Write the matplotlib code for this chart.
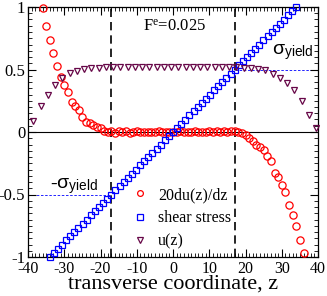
import numpy as np
import matplotlib
matplotlib.use('Agg')
import matplotlib.pyplot as plt
from matplotlib.ticker import MultipleLocator, FuncFormatter

plt.rcParams['font.family'] = ['Liberation Serif', 'DejaVu Serif']
plt.rcParams['axes.unicode_minus'] = False
plt.rcParams['mathtext.fontset'] = 'custom'
plt.rcParams['mathtext.rm'] = 'Liberation Serif'
plt.rcParams['mathtext.it'] = 'Liberation Serif:italic'
plt.rcParams['mathtext.sf'] = 'Liberation Sans'

# 20 du(z)/dz, red circles
z_grad = [-36, -35, -34, -33, -32, -31, -30, -29, -28, -27, -26, -25, -24, -23, -22,
          -21, -20, -19, -18, -17, -16, -15, -14, -13, -12, -11, -10, -9, -8, -7,
          -6, -5, -4, -3, -2, -1, 0, 1, 2, 3, 4, 5, 6, 7, 8, 9, 10, 11, 12, 13, 14,
          15, 16, 17, 18, 19, 20, 21, 22, 23, 24, 25, 26, 27, 28, 29, 30, 31, 32,
          33, 34, 35, 36]
grad = [0.99, 0.85, 0.74, 0.63, 0.53, 0.44, 0.38, 0.32, 0.24, 0.21, 0.18, 0.12, 0.08,
        0.07, 0.055, 0.04, 0.03, 0.005, 0.0, 0.008, -0.005, 0.005, 0.0, 0.006, -0.004,
        0.0, 0.005, -0.003, 0.0, 0.004, -0.003, 0.0, 0.005, -0.002, 0.0, 0.004, -0.003,
        0.0, 0.005, -0.003, 0.004, 0.0, 0.005, -0.002, 0.004, 0.0, 0.006, -0.002, 0.005,
        0.0, 0.006, 0.002, 0.008, 0.005, 0.0, -0.01, -0.025, -0.045, -0.07, -0.10, -0.12,
        -0.14, -0.19, -0.23, -0.33, -0.36, -0.42, -0.48, -0.58, -0.66, -0.75, -0.86, -0.97]

# shear stress, blue squares
z_stress = [-34.0, -32.87, -31.73, -30.6, -29.47, -28.33, -27.2, -26.07, -24.93, -23.8,
            -22.67, -21.53, -20.4, -19.27, -18.13, -17.0, -15.87, -14.73, -13.6, -12.47,
            -11.33, -10.2, -9.07, -7.93, -6.8, -5.67, -4.53, -3.4, -2.27, -1.13, 0.0,
            1.13, 2.27, 3.4, 4.53, 5.67, 6.8, 7.93, 9.07, 10.2, 11.33, 12.47, 13.6,
            14.73, 15.87, 17.0, 18.13, 19.27, 20.4, 21.53, 22.67, 23.8, 24.93, 26.07,
            27.2, 28.33, 29.47, 30.6, 31.73, 32.87, 34.0]
stress = [-1.0, -0.967, -0.933, -0.9, -0.867, -0.833, -0.8, -0.767, -0.733, -0.7,
          -0.667, -0.633, -0.6, -0.567, -0.533, -0.5, -0.467, -0.433, -0.4, -0.367,
          -0.333, -0.3, -0.267, -0.233, -0.2, -0.167, -0.133, -0.1, -0.067, -0.033, 0.0,
          0.033, 0.067, 0.1, 0.133, 0.167, 0.2, 0.233, 0.267, 0.3, 0.333, 0.367, 0.4,
          0.433, 0.467, 0.5, 0.533, 0.567, 0.6, 0.633, 0.667, 0.7, 0.733, 0.767,
          0.8, 0.833, 0.867, 0.9, 0.933, 0.967, 1.0]

# velocity profile u(z), triangles
z_u = [-38.5, -36.5, -34.5, -32.5, -30.5, -28.5, -26.5, -24.5, -22.5, -20.5, -18.5,
       -16.5, -14.5, -12.5, -10.5, -8.5, -6.5, -4.5, -2.5, -0.5, 1.5, 3.5, 5.5, 7.5,
       9.5, 11.5, 13.5, 15.5, 17.5, 19.5, 21.5, 23.5, 25.5, 27.5, 29.5, 31.5, 33.5,
       35.5, 37.5, 39.5]
u = [0.085, 0.21, 0.30, 0.38, 0.43, 0.47, 0.49, 0.505, 0.512, 0.516, 0.518,
     0.52, 0.52, 0.52, 0.52, 0.52, 0.52, 0.52, 0.52, 0.52, 0.52, 0.52, 0.52, 0.52,
     0.52, 0.52, 0.52, 0.52, 0.519, 0.515, 0.512, 0.507, 0.495, 0.468, 0.43, 0.395,
     0.34, 0.25, 0.137, 0.03]

z_yield = 17
sigma_yield = 0.5
maroon = '#670748'

fig = plt.figure(figsize=(3.27, 2.96), dpi=100)
ax = fig.add_axes([28/327, 1-257/296, 290/327, 250/296])

ax.axhline(0, color='k', lw=0.8, zorder=1)
ax.axvline(-z_yield, color='k', lw=1.2, ls=(0, (5, 3)), zorder=1)
ax.axvline(z_yield, color='k', lw=1.2, ls=(0, (5, 3)), zorder=1)
ax.plot([-40, -z_yield], [-sigma_yield, -sigma_yield], color='b', lw=0.6, ls=(0, (3, 2)), zorder=1)
ax.plot([z_yield, 40], [sigma_yield, sigma_yield], color='b', lw=0.6, ls=(0, (3, 2)), zorder=1)

ax.plot(z_grad, grad, ls='none', marker='o', ms=5.2, mfc='none', mec='#ff0000',
        mew=0.9, label='20du(z)/dz', clip_on=False, zorder=3)
ax.plot(z_stress, stress, ls='none', marker='s', ms=4.6, mfc='none', mec='#0000ff',
        mew=0.9, label='shear stress', clip_on=False, zorder=3)
ax.plot(z_u, u, ls='none', marker='v', ms=5.0, mfc='none', mec=maroon,
        mew=0.9, label='u(z)', clip_on=False, zorder=3)

ax.set_xlim(-40, 40)
ax.set_ylim(-1, 1)
ax.xaxis.set_major_locator(MultipleLocator(10))
ax.xaxis.set_minor_locator(MultipleLocator(1))
ax.yaxis.set_major_locator(MultipleLocator(0.5))
ax.yaxis.set_minor_locator(MultipleLocator(0.05))
ax.yaxis.set_major_formatter(FuncFormatter(lambda v, p: '%g' % v))
ax.tick_params(which='both', direction='in', top=True, right=True, labelsize=12)
ax.tick_params(which='major', length=6, width=0.8)
ax.tick_params(which='minor', length=3, width=0.6)
ax.tick_params(axis='y', which='major', pad=2)
ax.tick_params(axis='x', which='major', pad=3, labelsize=11.5)
for s in ax.spines.values():
    s.set_linewidth(0.9)

ax.set_xlabel('transverse coordinate, z', fontsize=16, labelpad=-2)

ax.text(-8.2, 0.84, r'F$^{\mathrm{e}}$=0.025', fontsize=12, va='center')
ax.text(27.2, 0.64, r'$\mathsf{\sigma}_{\mathsf{yield}}$', fontsize=14, va='center')
ax.text(-34, -0.43, r'-$\mathsf{\sigma}_{\mathsf{yield}}$', fontsize=14, va='center')

ax.legend(loc='upper left', bbox_to_anchor=(0.36, 0.28), frameon=False, fontsize=11.5,
          handlelength=1.0, handletextpad=0.6, labelspacing=0.45, markerscale=0.8,
          borderaxespad=0, borderpad=0)

fig.savefig('out.png', dpi=100)
